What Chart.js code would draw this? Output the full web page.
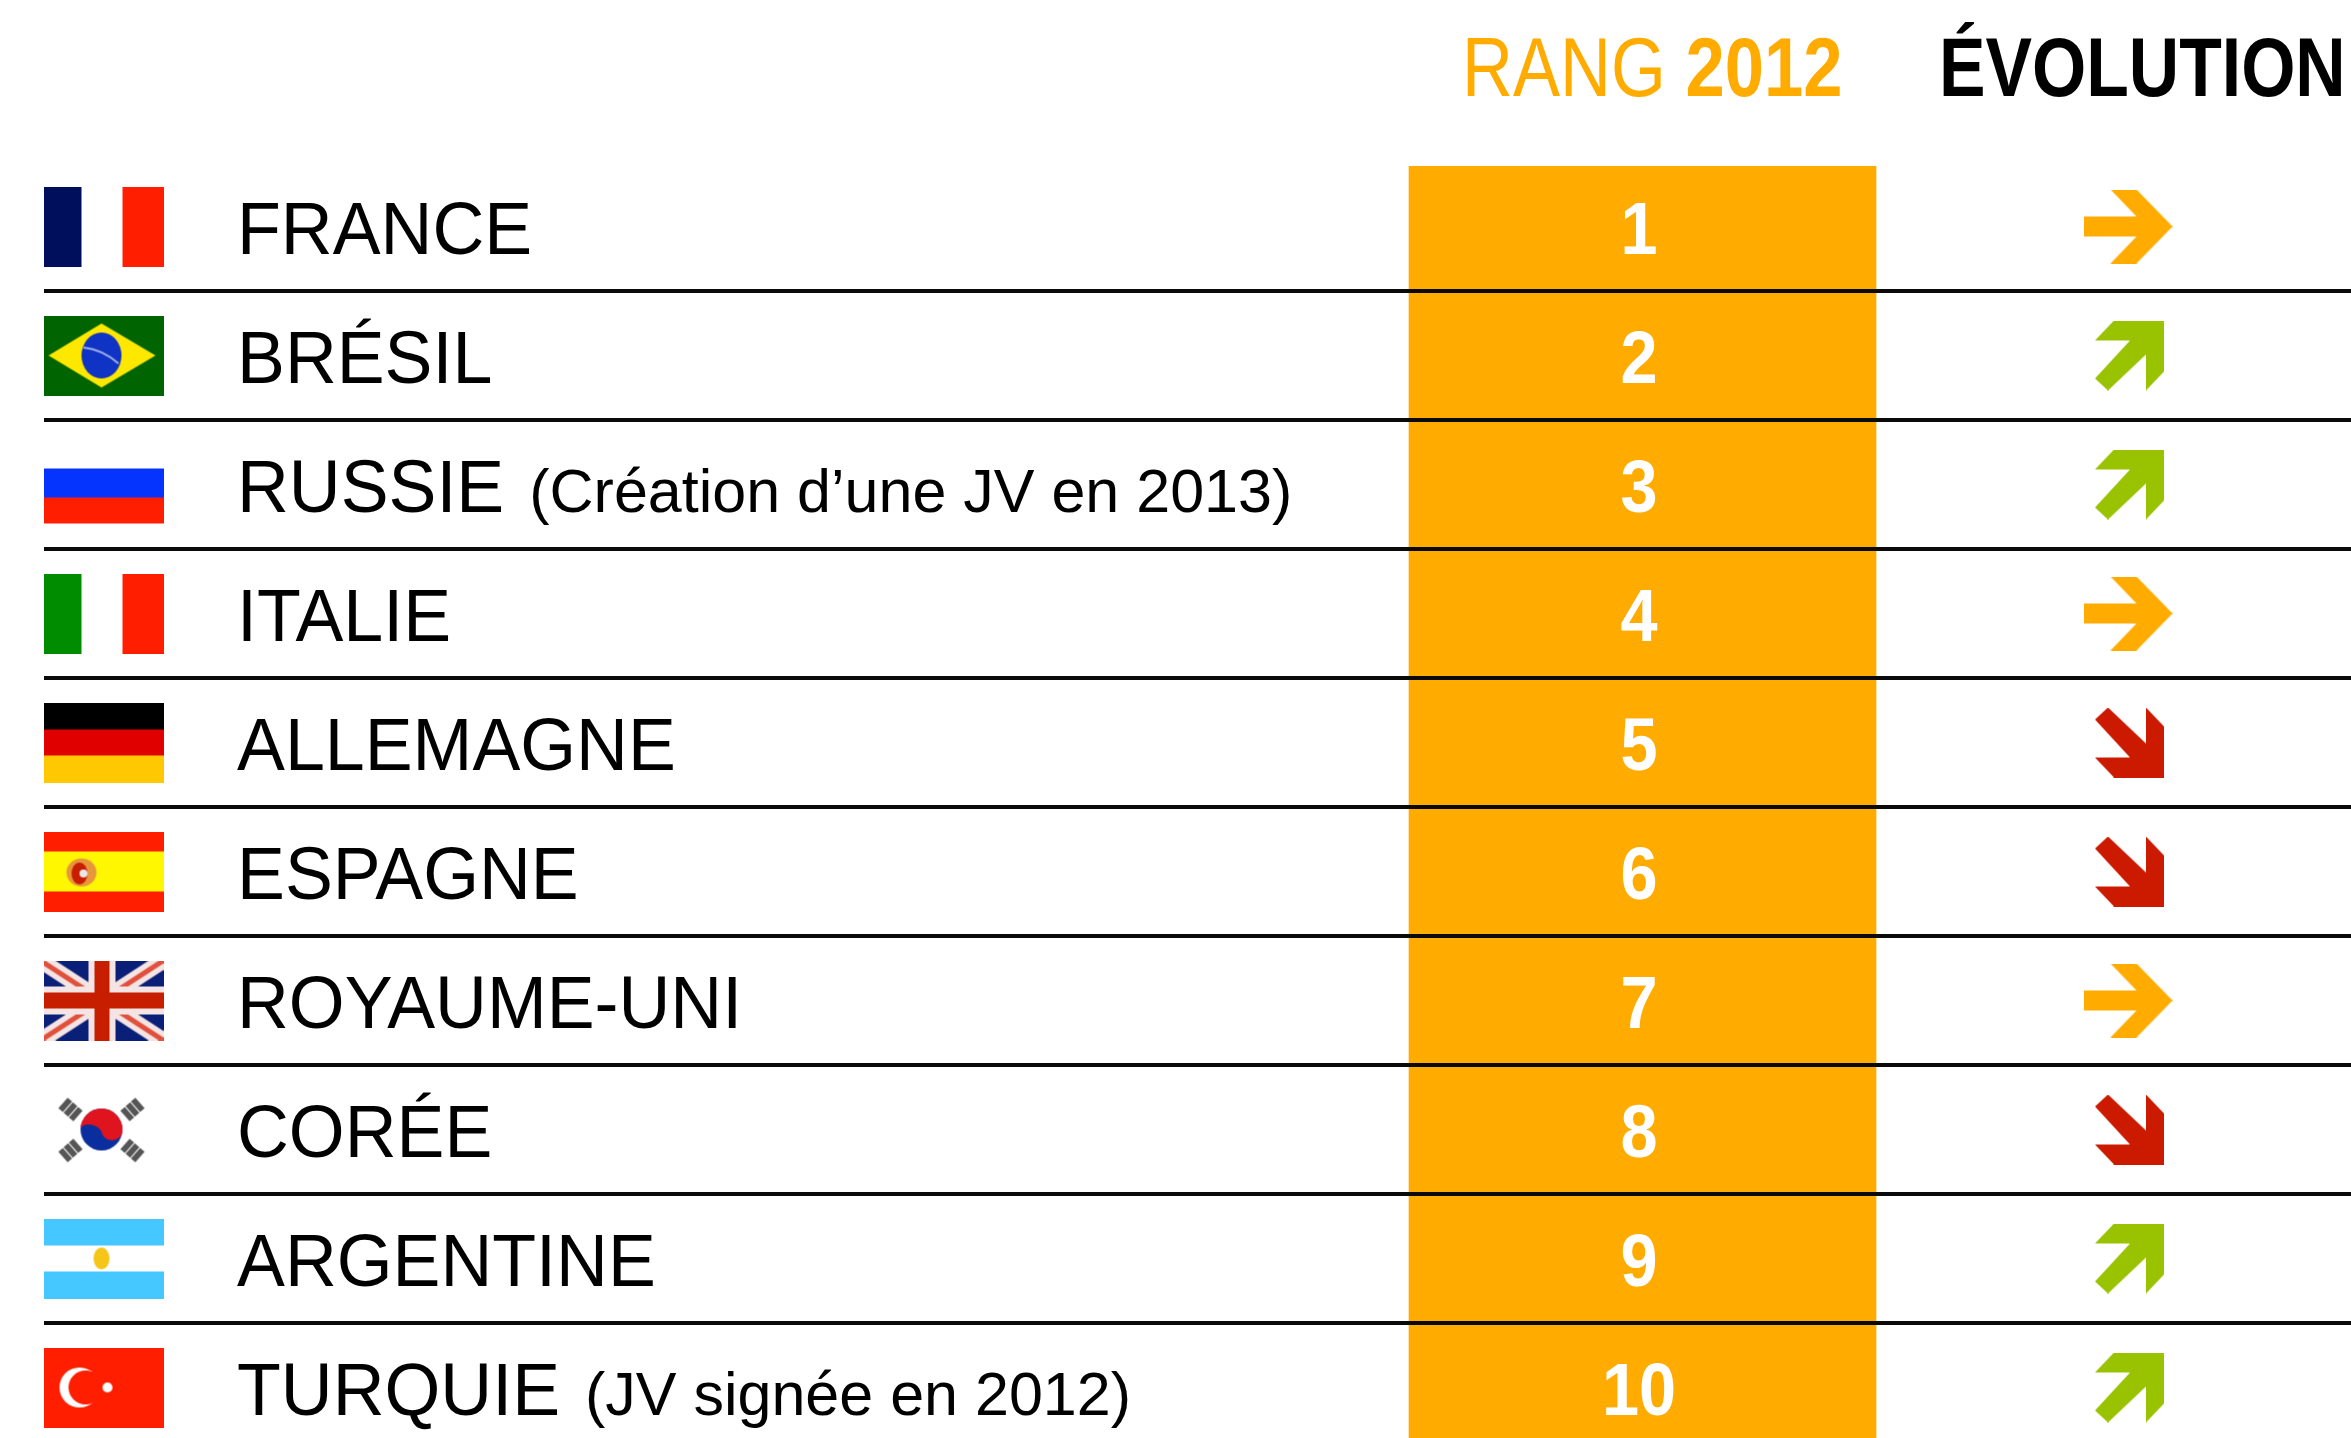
<!DOCTYPE html>
<html>
<head>
<meta charset="utf-8">
<script src="https://cdn.jsdelivr.net/npm/chart.js@4"></script>
<style>
html, body { margin: 0; padding: 0; background: #fff; overflow: hidden; }
#wrap { width: 2351px; height: 1438px; overflow: hidden; }
canvas { display: block; }
</style>
</head>
<body>
<div id="wrap"><canvas id="myChart" width="2351" height="1470"></canvas></div>
<script>
var countries = ["FRANCE", "BRÉSIL", "RUSSIE", "ITALIE", "ALLEMAGNE", "ESPAGNE", "ROYAUME-UNI", "CORÉE", "ARGENTINE", "TURQUIE"];
var ranks = [1, 2, 3, 4, 5, 6, 7, 8, 9, 10];
var evolution = ["stable", "up", "up", "stable", "down", "down", "stable", "down", "up", "up"];
var notes = ["", "", "(Création d’une JV en 2013)", "", "", "", "", "", "", "(JV signée en 2012)"];
var flagCodes = ["fr", "br", "ru", "it", "de", "es", "gb", "kr", "ar", "tr"];
var headers = ["RANG ", "2012", "ÉVOLUTION"];

var FONT = '"Liberation Sans", Arial, sans-serif';
var ORANGE = "#FFAB00";
// x positions, in scale units (table is 2307 wide, starts at canvas x=44)
var TABLE_W = 2307, FLAG_X = 58, NAME_X = 193, RANK_L = 1365, RANK_R = 1832, RANK_X = 1595, ARROW_X = 2084;

function makeCanvas(w, h, draw) {
  var c = document.createElement("canvas");
  c.width = w;
  c.height = h;
  draw(c.getContext("2d"), w, h);
  return c;
}

function polygon(ctx, color, pts) {
  ctx.fillStyle = color;
  ctx.beginPath();
  pts.forEach(function(p, i) {
    if (i == 0) ctx.moveTo(p[0], p[1]); else ctx.lineTo(p[0], p[1]);
  });
  ctx.closePath();
  ctx.fill();
}

var arrows = {
  stable: makeCanvas(89, 74, function(ctx) {
    polygon(ctx, ORANGE, [[0,27],[53,27],[27,0],[53,0],[89,37],[53,74],[27,74],[53,47],[0,47]]);
  }),
  // up and down sit 2px right of the stable arrow's centre
  up: makeCanvas(74, 70, function(ctx) {
    ctx.translate(4, 0);
    polygon(ctx, "#99C200", [[0,58],[13,70],[51,34],[51,70],[69,51],[69,0],[19,0],[0,20],[35,20]]);
  }),
  down: makeCanvas(74, 70, function(ctx) {
    ctx.translate(4, 0);
    polygon(ctx, "#CC1A00", [[0,12],[13,0],[51,36],[51,0],[69,19],[69,70],[19,70],[0,50],[35,50]]);
  })
};

function bands(ctx, w, h, colors, vertical) {
  colors.forEach(function(b) {
    ctx.fillStyle = b[0];
    if (vertical) ctx.fillRect(b[1], 0, b[2] - b[1], h);
    else ctx.fillRect(0, b[1], w, b[2] - b[1]);
  });
}

var flagDraw = {
  fr: function(ctx, w, h) { bands(ctx, w, h, [["#000F5C", 0, 41], ["#FF1E00", 82, 123]], true); },
  it: function(ctx, w, h) { bands(ctx, w, h, [["#008C00", 0, 41], ["#FF1E00", 82, 123]], true); },
  ru: function(ctx, w, h) { bands(ctx, w, h, [["#0533FF", 24, 53], ["#FF1E00", 53, 79]], false); },
  de: function(ctx, w, h) { bands(ctx, w, h, [["#000000", 0, 27], ["#E00000", 27, 53], ["#FFC800", 53, 80]], false); },
  br: function(ctx, w, h) {
    ctx.fillStyle = "#006400";
    ctx.fillRect(0, 0, w, h);
    polygon(ctx, "#FFE800", [[8,40],[61,8],[115,40],[61,72]]);
    ctx.fillStyle = "#0F33C4";
    ctx.beginPath();
    ctx.ellipse(61, 40, 20, 23, 0, 0, 7);
    ctx.fill();
    ctx.strokeStyle = "#9DB0E8";
    ctx.lineWidth = 2;
    ctx.beginPath();
    ctx.moveTo(43, 32);
    ctx.quadraticCurveTo(62, 34, 78, 48);
    ctx.stroke();
  },
  es: function(ctx, w, h) {
    bands(ctx, w, h, [["#FF1E00", 0, 20], ["#FFF700", 20, 60], ["#FF1E00", 60, 80]], false);
    ctx.fillStyle = "#E8963C";
    ctx.beginPath();
    ctx.ellipse(41, 41, 15, 14, 0, 0, 7);
    ctx.fill();
    ctx.fillStyle = "#C81E00";
    ctx.beginPath();
    ctx.ellipse(39, 42, 8, 11, 0, 0, 7);
    ctx.fill();
    ctx.fillStyle = "#E8E8E8";
    ctx.beginPath();
    ctx.arc(43, 42, 4, 0, 7);
    ctx.fill();
  },
  gb: function(ctx, w, h) {
    ctx.fillStyle = "#0A1F78";
    ctx.fillRect(0, 0, w, h);
    ctx.lineCap = "butt";
    ctx.strokeStyle = "#F4E4E4";
    ctx.lineWidth = 16;
    ctx.beginPath();
    ctx.moveTo(0, 0); ctx.lineTo(w, h);
    ctx.moveTo(w, 0); ctx.lineTo(0, h);
    ctx.stroke();
    ctx.strokeStyle = "#E0503C";
    ctx.lineWidth = 5;
    ctx.stroke();
    ctx.fillStyle = "#F4E4E4";
    ctx.fillRect(48, 0, 27, h);
    ctx.fillRect(0, 26, w, 28);
    ctx.fillStyle = "#C81E00";
    ctx.fillRect(54, 0, 15, h);
    ctx.fillRect(0, 32, w, 16);
  },
  kr: function(ctx, w, h) {
    var cx = 61, cy = 40, r = 21;
    ctx.fillStyle = "#0B2E9E";
    ctx.beginPath();
    ctx.arc(cx, cy, r, 0, 7);
    ctx.fill();
    ctx.fillStyle = "#E0141E";
    ctx.beginPath();
    ctx.arc(cx, cy, r, Math.PI, 0);
    ctx.bezierCurveTo(cx + r, cy + 14, cx + 2, cy + 14, cx, cy + 2);
    ctx.bezierCurveTo(cx - 6, cy - 8, cx - r, cy - 6, cx - r, cy);
    ctx.fill();
    ctx.fillStyle = "#555";
    [[-31, -20, -0.85], [31, -20, 0.85], [-31, 21, 0.85], [31, 21, -0.85]].forEach(function(t) {
      ctx.save();
      ctx.translate(cx + t[0], cy + t[1]);
      ctx.rotate(t[2]);
      ctx.fillRect(-7, -10, 14, 6);
      ctx.fillRect(-7, -3, 14, 6);
      ctx.fillRect(-7, 4, 14, 6);
      ctx.restore();
    });
  },
  ar: function(ctx, w, h) {
    bands(ctx, w, h, [["#45C8FF", 0, 27], ["#45C8FF", 53, 80]], false);
    ctx.fillStyle = "#F5C518";
    ctx.beginPath();
    ctx.ellipse(61, 40, 8, 11, 0, 0, 7);
    ctx.fill();
  },
  tr: function(ctx, w, h) {
    ctx.fillStyle = "#FF1E00";
    ctx.fillRect(0, 0, w, h);
    ctx.fillStyle = "#fff";
    ctx.beginPath();
    ctx.arc(39, 40, 20, 0, 7);
    ctx.fill();
    ctx.fillStyle = "#FF1E00";
    ctx.beginPath();
    ctx.arc(45, 40, 17, 0, 7);
    ctx.fill();
    ctx.fillStyle = "#fff";
    ctx.beginPath();
    ctx.arc(67, 40, 5, 0, 7);
    ctx.fill();
  }
};

var flags = flagCodes.map(function(code) {
  return makeCanvas(123, 80, flagDraw[code]);
});

// text squeezed horizontally, the source picture is a bit narrow
function putText(ctx, text, x, y, font, color, sx, align) {
  ctx.save();
  ctx.font = font;
  ctx.fillStyle = color;
  ctx.textAlign = align || "left";
  ctx.textBaseline = "alphabetic";
  ctx.translate(x, y);
  ctx.scale(sx, 1);
  ctx.fillText(text, 0, 0);
  ctx.restore();
}

var tableText = {
  id: "tableText",
  afterDraw: function(chart) {
    var ctx = chart.ctx;
    var xs = chart.scales.x, ys = chart.scales.y;

    // header row
    var regular = "84px " + FONT, bold = "bold 84px " + FONT;
    putText(ctx, headers[0], 1462, 96, regular, ORANGE, 0.84);
    ctx.font = regular;
    var w0 = ctx.measureText(headers[0]).width * 0.84;
    putText(ctx, headers[1], 1462 + w0, 96, bold, ORANGE, 0.84);
    putText(ctx, headers[2], 1939, 96, bold, "#000", 0.83);

    var nameFont = "74px " + FONT;
    ranks.forEach(function(r, i) {
      var y = ys.getPixelForValue(i);
      var x = xs.getPixelForValue(NAME_X);
      putText(ctx, countries[i], x, y + 27, nameFont, "#000", 0.97);
      putText(ctx, String(r), xs.getPixelForValue(RANK_X), y + 27, "bold 74px " + FONT, "#fff", 0.9, "center");
      if (notes[i]) {
        ctx.font = nameFont;
        putText(ctx, notes[i], x + ctx.measureText(countries[i]).width * 0.97 + 25, y + 27, "61px " + FONT, "#000", 1);
      }
    });
  }
};

var config = {
  type: "bar",
  data: {
    labels: countries,
    datasets: [{
      label: "Rang 2012",
      data: ranks.map(function() { return [RANK_L, RANK_R]; }),
      backgroundColor: ORANGE,
      barPercentage: 1,
      categoryPercentage: 1,
      clip: { left: false, top: -4, right: false, bottom: false },
      order: 3
    }, {
      type: "scatter",
      label: "Pays",
      data: countries.map(function(c) { return { x: FLAG_X, y: c }; }),
      showLine: false,
      pointStyle: function(c) { return flags[c.dataIndex]; },
      order: 2
    }, {
      type: "scatter",
      label: "Évolution",
      data: countries.map(function(c) { return { x: ARROW_X, y: c }; }),
      showLine: false,
      pointStyle: function(c) { return arrows[evolution[c.dataIndex]]; },
      order: 1
    }]
  },
  options: {
    indexAxis: "y",
    responsive: false,
    animation: false,
    events: [],
    // last row runs past the bottom of the page, canvas is cropped by #wrap
    layout: { autoPadding: false, padding: { left: 44, right: 0, top: 162, bottom: 18 } },
    plugins: { legend: { display: false }, tooltip: { enabled: false } },
    scales: {
      x: { type: "linear", display: false, min: 0, max: TABLE_W },
      y: {
        type: "category",
        offset: true,
        border: { display: false },
        grid: {
          offset: true,
          z: 1,
          drawTicks: false,
          lineWidth: 4,
          color: function(c) { return c.index == 0 ? "rgba(0,0,0,0)" : "#0a0a0a"; }
        },
        ticks: { display: false }
      }
    }
  },
  plugins: [tableText]
};

var myChart = new Chart(document.getElementById("myChart").getContext("2d"), config);
</script>
</body>
</html>
